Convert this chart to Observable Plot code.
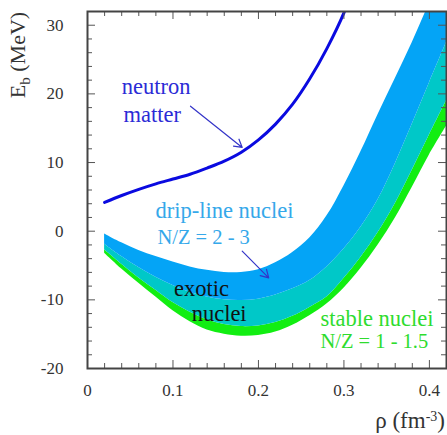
<!DOCTYPE html>
<html><head><meta charset="utf-8">
<script src="https://cdn.jsdelivr.net/npm/d3@7"></script>
<script src="https://cdn.jsdelivr.net/npm/@observablehq/plot@0.6"></script>
<style>body{margin:0;background:#fff} svg{display:block}</style>
</head><body><div id="chart"></div>
<script>
// density grid (fm^-3)
const rho = [0.02,0.04,0.06,0.08,0.10,0.12,0.14,0.16,0.18,0.20,0.22,0.24,0.26,0.28,0.30,0.32,0.34,0.36,0.38,0.40,0.42];
// drip-line band top (MeV)
const dripTop = [-0.4,-1.7,-2.8,-3.7,-4.5,-5.2,-5.7,-6.0,-6.0,-5.6,-4.6,-3.1,-1.0,2.2,6.6,11.6,17.0,22.2,27.5,33.2,39.0];
// boundary drip-line / exotic band
const dripBottom = [-1.9,-3.7,-5.3,-6.7,-7.9,-8.9,-9.6,-10.0,-10.1,-9.9,-9.3,-8.4,-7.2,-5.2,-2.6,0.6,4.6,9.8,15.6,21.6,27.5];
// boundary exotic / stable band
const exoticBottom = [-2.7,-4.8,-6.8,-8.6,-10.4,-11.8,-12.9,-13.6,-13.9,-13.8,-13.3,-12.4,-11.1,-9.6,-6.9,-3.8,-0.2,4.0,8.9,14.0,19.0];
// stable band bottom
const stableBottom = [-3.2,-5.5,-7.6,-9.6,-11.6,-13.2,-14.4,-15.0,-15.3,-15.2,-14.7,-13.7,-12.3,-10.6,-8.3,-5.4,-2.0,1.9,6.4,11.1,15.3];

// neutron matter curve
const neutronRho = [0.02,0.04,0.06,0.08,0.10,0.12,0.14,0.16,0.18,0.20,0.22,0.24,0.26,0.28,0.30,0.305];
const neutronEb  = [4.2,5.2,6.1,6.9,7.6,8.3,9.2,10.2,11.5,13.3,15.6,18.5,22.2,26.6,31.8,33.5];

// axis ticks
const xTickLabels = [0,0.1,0.2,0.3,0.4];
const yTickLabels = [-20,-10,0,10,20,30];
const xMinorTicks = [0.02,0.04,0.06,0.08,0.12,0.14,0.16,0.18,0.22,0.24,0.26,0.28,0.32,0.34,0.36,0.38,0.42];
const yMinorTicks = [-18,-16,-14,-12,-8,-6,-4,-2,2,4,6,8,12,14,16,18,22,24,26,28,32];

// annotations (data coordinates)
const labelText = ["neutron","matter","drip-line nuclei","N/Z = 2 - 3","exotic","nuclei","stable nuclei","N/Z = 1 - 1.5"];
const labelRho  = [0.040,0.042,0.0795,0.0818,0.1333,0.154,0.2725,0.2725];
const labelEb   = [21.0,17.0,2.9,-0.9,-8.4,-12.1,-12.75,-16.1];
const labelAnchor = ["start","start","start","start","middle","middle","start","start"];
const labelSize = [22.5,22.5,22.5,20.5,22.5,22.5,22.5,20.5];
const labelColor = ["#2b2bd6","#2b2bd6","#35a8ea","#35a8ea","#111","#111","#2edc2e","#2edc2e"];
const arrowRho1 = [0.1205,0.181], arrowEb1 = [18.2,-2.9];
const arrowRho2 = [0.181,0.212],  arrowEb2 = [12.2,-6.8];

const bands = rho.map((r,i)=>({rho:r, t:dripTop[i], b1:dripBottom[i], b2:exoticBottom[i], b3:stableBottom[i]}));
const neutron = neutronRho.map((r,i)=>({rho:r, eb:neutronEb[i]}));
const labels = labelText.map((t,i)=>({text:t, rho:labelRho[i], eb:labelEb[i], anchor:labelAnchor[i], size:labelSize[i], color:labelColor[i]}));
const arrows = arrowRho1.map((r,i)=>({x1:r,y1:arrowEb1[i],x2:arrowRho2[i],y2:arrowEb2[i]}));

const W = 447, H = 435, mL = 87, mR = 1, mT = 11, mB = 67;
const pw = W - mL - mR, ph = H - mT - mB;
const tc = "#555";
const FONT = "Liberation Serif";

const textMarks = [];
for (const anchor of ["start", "middle"]) for (const size of [22.5, 20.5]) {
  const sub = labels.filter(d => d.anchor === anchor && d.size === size);
  if (sub.length) textMarks.push(Plot.text(sub, {x: "rho", y: "eb", text: "text", textAnchor: anchor, fill: d => d.color, fontSize: size, lineAnchor: "middle", fontFamily: FONT}));
}

const chart = Plot.plot({
  width: W, height: H,
  marginLeft: mL, marginRight: mR, marginTop: mT, marginBottom: mB,
  x: {domain: [0, 0.42]},
  y: {domain: [-20, 32]},
  style: {fontFamily: FONT, fontSize: "17px", background: "#fff", overflow: "visible"},
  marks: [
    Plot.areaY(bands, {x: "rho", y1: "b3", y2: "b2", fill: "#12ee12", clip: true, curve: "catmull-rom"}),
    Plot.areaY(bands, {x: "rho", y1: "b2", y2: "b1", fill: "#00c8c8", clip: true, curve: "catmull-rom"}),
    Plot.areaY(bands, {x: "rho", y1: "b1", y2: "t", fill: "#04a4f6", clip: true, curve: "catmull-rom"}),
    Plot.line(neutron, {x: "rho", y: "eb", stroke: "#0a0ae0", strokeWidth: 3, clip: true, curve: "catmull-rom"}),
    Plot.arrow(arrows, {x1: "x1", y1: "y1", x2: "x2", y2: "y2", stroke: "#3434c8", strokeWidth: 1.2, headLength: 11, bend: false}),
    ...textMarks,
    // inward ticks
    Plot.tickX(xTickLabels, {x: d => d, insetTop: ph - 8, stroke: tc}),
    Plot.tickX(xTickLabels, {x: d => d, insetBottom: ph - 8, stroke: tc}),
    Plot.tickX(xMinorTicks, {x: d => d, insetTop: ph - 5, stroke: tc}),
    Plot.tickX(xMinorTicks, {x: d => d, insetBottom: ph - 5, stroke: tc}),
    Plot.tickY(yTickLabels, {y: d => d, insetRight: pw - 8, stroke: tc}),
    Plot.tickY(yTickLabels, {y: d => d, insetLeft: pw - 8, stroke: tc}),
    Plot.tickY(yMinorTicks, {y: d => d, insetRight: pw - 5, stroke: tc}),
    Plot.tickY(yMinorTicks, {y: d => d, insetLeft: pw - 5, stroke: tc}),
    Plot.frame({stroke: "#444", strokeWidth: 2}),
    Plot.axisX(xTickLabels, {tickSize: 0, tickPadding: 15, label: null, fill: "#333", fontSize: 17, fontFamily: FONT,
      tickFormat: d => d === 0 ? "0" : d.toFixed(1)}),
    Plot.axisY(yTickLabels, {tickSize: 0, tickPadding: 24, label: null, fill: "#333", fontSize: 17, fontFamily: FONT,
      tickFormat: d => String(d)})
  ]
});
document.getElementById("chart").appendChild(chart);

const svg = d3.select(chart);
const yl = svg.append("text")
  .attr("transform", "translate(17,55) rotate(-90)")
  .attr("text-anchor", "middle").attr("dominant-baseline", "central")
  .style("font-family", FONT)
  .attr("fill", "#333").style("font-size", "22px");
yl.append("tspan").text("E");
yl.append("tspan").text("b").attr("baseline-shift", "sub").style("font-size", "15px");
yl.append("tspan").text(" (MeV)");

const xl = svg.append("text")
  .attr("x", 445).attr("y", 428).attr("text-anchor", "end")
  .style("font-family", FONT)
  .attr("fill", "#333").style("font-size", "23px");
xl.append("tspan").text("ρ (fm");
xl.append("tspan").text("-3").attr("baseline-shift", "super").style("font-size", "14px");
xl.append("tspan").text(")");
</script>
</body></html>
